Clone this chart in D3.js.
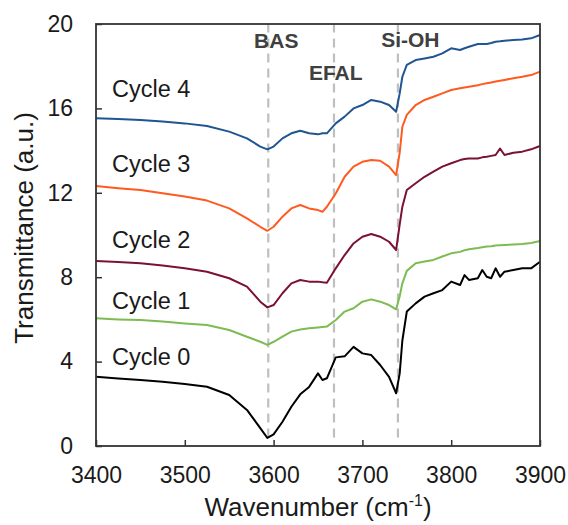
<!DOCTYPE html>
<html>
<head>
<meta charset="utf-8">
<script src="https://cdn.jsdelivr.net/npm/d3@7"></script>
<style>
  body { margin: 0; background: white; }
  svg { font-family: "Liberation Sans", Arial, sans-serif; }
</style>
</head>
<body>
<svg id="chart" width="568" height="525"></svg>
<script>
// wavenumber grid (cm-1) shared by every cycle
var wavenumbers = [3400,3425,3450,3475,3500,3525,3550,3570,3585,3593,3600,3610,3620,3630,3640,3650,3655,3660,3670,3680,3690,3700,3710,3720,3730,3738,3742,3745,3750,3760,3770,3780,3790,3800,3810,3815,3820,3830,3835,3840,3845,3850,3855,3860,3870,3880,3890,3900];

var cycle0 = [3.28,3.2,3.13,3.05,2.94,2.81,2.42,1.71,0.85,0.38,0.55,1.15,1.86,2.45,2.8,3.44,3.13,3.21,4.2,4.25,4.7,4.39,4.31,3.84,3.28,2.5,3.44,5.0,6.37,6.76,7.08,7.24,7.39,7.79,7.63,8.1,7.87,7.95,8.34,8.02,7.95,8.42,8.02,8.26,8.34,8.42,8.42,8.73];
var cycle1 = [6.05,6.0,5.97,5.9,5.81,5.73,5.5,5.18,4.94,4.79,4.94,5.18,5.42,5.52,5.58,5.62,5.64,5.66,5.97,6.37,6.53,6.84,6.95,6.84,6.68,6.48,7.1,7.71,8.3,8.66,8.74,8.82,8.98,9.13,9.2,9.28,9.32,9.38,9.42,9.45,9.47,9.5,9.52,9.53,9.55,9.57,9.62,9.72];
var cycle2 = [8.77,8.72,8.66,8.55,8.42,8.26,7.95,7.55,6.84,6.57,6.68,7.24,7.71,7.87,7.79,7.79,7.76,7.74,8.42,9.05,9.6,9.92,10.05,9.92,9.68,9.29,10.5,11.34,12.13,12.45,12.76,13.0,13.24,13.4,13.55,13.6,13.63,13.63,13.68,13.71,13.75,13.79,14.1,13.79,13.9,13.95,14.06,14.22];
var cycle3 = [12.32,12.22,12.13,11.98,11.82,11.63,11.26,10.79,10.39,10.2,10.39,10.87,11.26,11.42,11.26,11.18,11.1,11.34,11.97,12.76,13.24,13.47,13.55,13.52,13.24,12.84,13.9,15.13,15.69,16.16,16.4,16.55,16.71,16.87,16.95,16.99,17.03,17.1,17.15,17.19,17.23,17.27,17.31,17.35,17.43,17.5,17.58,17.74];
var cycle4 = [15.53,15.5,15.45,15.38,15.29,15.17,14.9,14.58,14.19,14.06,14.19,14.58,14.82,14.94,14.82,14.77,14.82,14.82,15.29,15.61,16.0,16.16,16.4,16.32,16.16,15.84,16.71,17.5,18.06,18.29,18.37,18.45,18.61,18.85,18.77,18.85,18.92,19.05,19.05,19.05,19.1,19.16,19.18,19.21,19.24,19.27,19.32,19.48];

var seriesNames = ["Cycle 0","Cycle 1","Cycle 2","Cycle 3","Cycle 4"];
var seriesColors = ["#000000","#7dbb53","#7b1038","#ff5a1f","#1f5591"];
// label anchor for each cycle name (wavenumber, transmittance)
var labelPos = [[3418,3.84],[3418,6.49],[3418,9.38],[3418,12.99],[3418,16.54]];

// marker bands
var bandNames = ["BAS","EFAL","Si-OH"];
var bandWavenumbers = [3594,3668,3740];
var bandLabelPos = [[3603,18.86],[3670,17.35],[3754,18.91]];

var xTicks = [3400,3500,3600,3700,3800,3900];
var yTicks = [0,4,8,12,16,20];

var margin = { top: 24, right: 28, bottom: 79, left: 96 };
var svg = d3.select("#chart");
var width = +svg.attr("width");
var height = +svg.attr("height");
var innerWidth = width - margin.left - margin.right;
var innerHeight = height - margin.top - margin.bottom;

var x = d3.scaleLinear().domain([3400,3900]).range([0, innerWidth]);
var y = d3.scaleLinear().domain([0,20]).range([innerHeight, 0]);

var g = svg.append("g")
  .attr("transform", `translate(${margin.left},${margin.top})`);

// dashed band lines
g.selectAll("line.band")
  .data(bandWavenumbers)
  .enter()
  .append("line")
  .attr("class","band")
  .attr("x1", d => x(d))
  .attr("x2", d => x(d))
  .attr("y1", y(0.4))
  .attr("y2", y(20))
  .attr("stroke","#bfbfbf")
  .attr("stroke-width",2.2)
  .attr("stroke-dasharray","9,6");

// spectra
var all = [cycle0, cycle1, cycle2, cycle3, cycle4];
var line = d3.line()
  .x((d,i) => x(wavenumbers[i]))
  .y(d => y(d))
  .curve(d3.curveLinear);

g.selectAll("path.spec")
  .data(all)
  .enter()
  .append("path")
  .attr("class","spec")
  .attr("d", line)
  .style("fill","none")
  .style("stroke", (d,i) => seriesColors[i])
  .style("stroke-width", 2)
  .style("stroke-linejoin","round");

// axes (ticks point inward)
var xAxis = g.append("g")
  .attr("transform",`translate(0,${innerHeight})`)
  .call(d3.axisBottom(x).tickValues(xTicks).tickFormat(d3.format("d"))
    .tickSize(-6).tickPadding(21).tickSizeOuter(0));
var yAxis = g.append("g")
  .call(d3.axisLeft(y).tickValues(yTicks).tickFormat(d3.format("d"))
    .tickSize(-6).tickPadding(23).tickSizeOuter(0));

[xAxis, yAxis].forEach(a => {
  a.selectAll("text").style("font-size","23px").attr("fill","#1a1a1a");
  a.selectAll("line").attr("stroke","#333").attr("stroke-width",1.5);
  a.select(".domain").remove();
});

// frame
g.append("rect")
  .attr("width", innerWidth)
  .attr("height", innerHeight)
  .style("fill","none")
  .style("stroke","#333")
  .style("stroke-width",1.8);

// cycle labels
g.selectAll("text.cycle")
  .data(seriesNames)
  .enter()
  .append("text")
  .attr("class","cycle")
  .attr("x", (d,i) => x(labelPos[i][0]))
  .attr("y", (d,i) => y(labelPos[i][1]))
  .style("font-size","23.5px")
  .attr("fill","#1a1a1a")
  .text(d => d);

// band labels
g.selectAll("text.bandLabel")
  .data(bandNames)
  .enter()
  .append("text")
  .attr("class","bandLabel")
  .attr("x", (d,i) => x(bandLabelPos[i][0]))
  .attr("y", (d,i) => y(bandLabelPos[i][1]))
  .style("text-anchor","middle")
  .style("font-size","21px")
  .style("font-weight","bold")
  .attr("fill","#404040")
  .text(d => d);

// axis titles
var xTitle = svg.append("text")
  .attr("x", margin.left + innerWidth/2)
  .attr("y", 516)
  .style("text-anchor","middle")
  .style("font-size","26px")
  .attr("fill","#1a1a1a");
xTitle.append("tspan").text("Wavenumber (cm");
xTitle.append("tspan").attr("dy",-10).style("font-size","16px").text("-1");
xTitle.append("tspan").attr("dy",10).text(")");

svg.append("text")
  .attr("transform","translate(33,228) rotate(-90)")
  .style("text-anchor","middle")
  .style("font-size","26px")
  .attr("fill","#1a1a1a")
  .text("Transmittance (a.u.)");
</script>
</body>
</html>
